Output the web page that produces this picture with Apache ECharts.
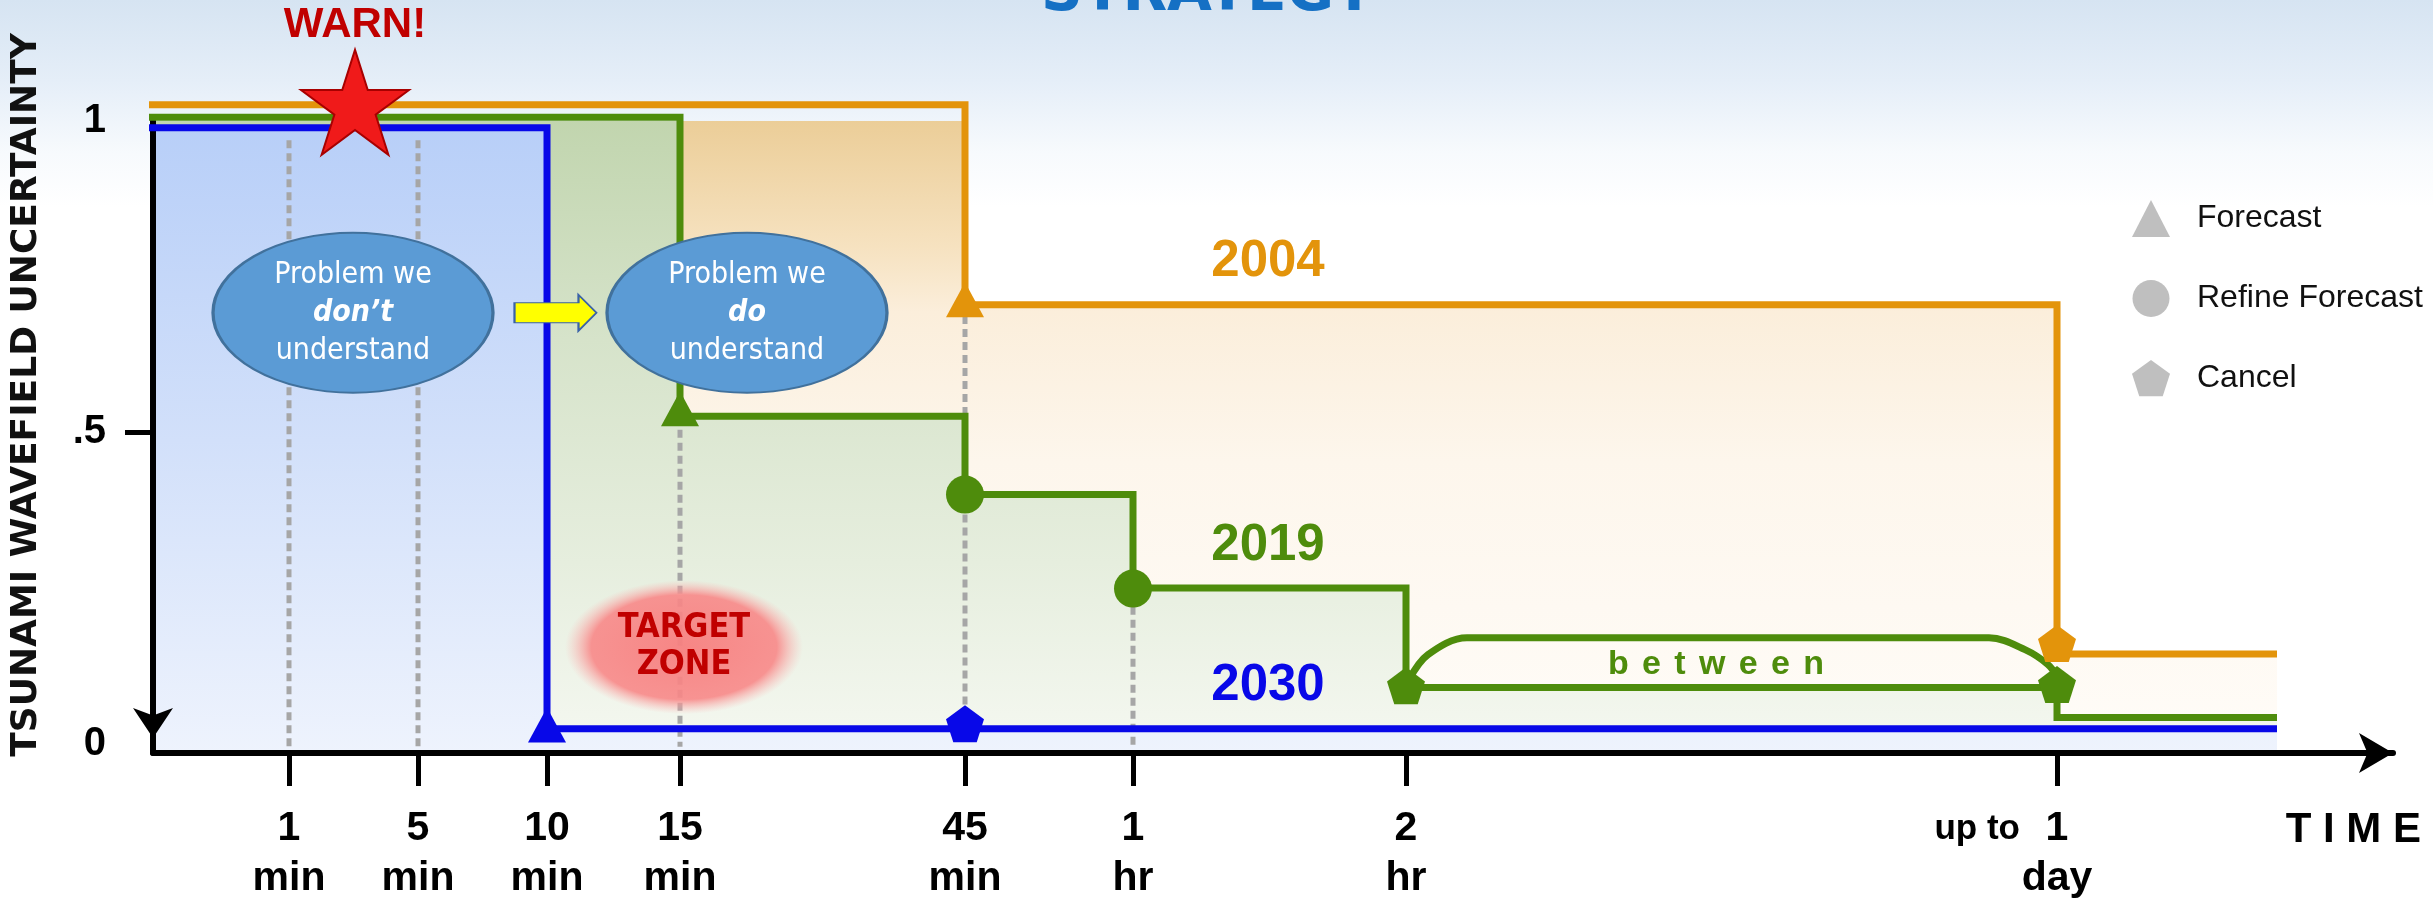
<!DOCTYPE html>
<html>
<head>
<meta charset="utf-8">
<title>Tsunami forecast strategy</title>
<script src="https://cdn.jsdelivr.net/npm/echarts@6/dist/echarts.min.js"></script>
<style>
    html, body { margin: 0; padding: 0; background: #fff; }
    #chart { width: 2433px; height: 901px; }
</style>
</head>
<body>
<div id="chart"></div>
<script>
// time axis is schematic, so ticks sit at hand-read positions (axis units)
const tickPos = [13.6, 26.5, 39.4, 52.7, 81.2, 98.0, 125.3, 190.4];
const tickNum = ['1', '5', '10', '15', '45', '1', '2', '1'];
const tickUnit = ['min', 'min', 'min', 'min', 'min', 'hr', 'hr', 'day'];
const yTickVals = [0, 0.5, 1];
const yTickText = ['0', '.5', '1'];

// stepped uncertainty levels: x where a level starts, y the level
const x2004 = [-2.9, 81.2, 190.4, 212.4];
const y2004 = [1.026, 0.705, 0.144, 0.144];
const x2019 = [-2.9, 52.7, 81.2, 98.0, 125.3, 190.4, 212.4];
const y2019 = [1.006, 0.526, 0.40, 0.25, 0.09, 0.042, 0.042];
const x2030 = [-2.9, 39.4, 212.4];
const y2030 = [0.989, 0.024, 0.024];

// markers [x, y, year]
const forecastPts = [[81.2, 0.713, '2004'], [52.7, 0.538, '2019'], [39.4, 0.030, '2030']];
const refinePts = [[81.2, 0.400, '2019'], [98.0, 0.249, '2019']];
const cancelPts = [[190.4, 0.161, '2004'], [125.3, 0.093, '2019'], [190.4, 0.095, '2019'], [81.2, 0.032, '2030']];

// grey dotted guides
const guideX = [13.6, 26.5, 52.7, 81.2, 81.2, 98.0];
const guideTop = [0.969, 0.969, 0.504, 0.687, 0.368, 0.220];
const guideBottom = [-0.005, -0.005, -0.005, 0.526, 0.063, -0.005];

// "between" bracket
const betweenX = [125.6, 127.5, 131.4, 183.6, 187.2, 189.5, 190.5];
const betweenY = [0.103, 0.143, 0.170, 0.170, 0.151, 0.127, 0.106];

// annotations
const yearNames = ['2004', '2019', '2030'];
const yearLabelX = [111.5, 111.5, 111.5];
const yearLabelY = [0.774, 0.318, 0.092];
const bubbleX = [20.0, 59.4];
const bubbleY = [0.692, 0.692];
const bubbleWord = ['don\u2019t', 'do'];
const arrowPt = [40.25, 0.692];
const targetPt = [53.1, 0.155];
const warnPt = [20.2, 1.030];
const betweenLabelPt = [156.3, 0.127];
const betweenWord = 'between';

const COLORS = { '2004': '#e3940b', '2019': '#4e8c0c', '2030': '#0808e8' };
const FONT = '"Liberation Sans", Arial, sans-serif';
const NARROW = '"Liberation Sans Narrow", "DejaVu Sans Condensed", "Liberation Sans", sans-serif';
const PENTAGON = 'path://M0,-1 L0.951,-0.309 L0.588,0.809 L-0.588,0.809 L-0.951,-0.309 Z';
const STAR = 'path://M0,-1 L0.2245,-0.309 L0.951,-0.309 L0.363,0.118 L0.588,0.809 L0,0.382 L-0.588,0.809 L-0.363,0.118 L-0.951,-0.309 L-0.2245,-0.309 Z';
const ARROW = 'path://M0,8 L64,8 L64,0 L82,18 L64,36 L64,28 L0,28 Z';

const chart = echarts.init(document.getElementById('chart'));

const toPts = (xs, ys) => xs.map((x, i) => [x, ys[i]]);
// fills start at the y axis, not at the line start
const fillPts = (xs, ys) => xs.map((x, i) => [i === 0 ? 0 : x, ys[i]]);
const grad = (stops) => new echarts.graphic.LinearGradient(0, 0, 0, 1,
    stops.map(s => ({ offset: s[0], color: s[1] })));

const areaSeries = (xs, ys, stops, z) => ({
    type: 'line', data: fillPts(xs, ys), step: 'end', symbol: 'none', silent: true,
    lineStyle: { width: 0 }, areaStyle: { origin: 'start', opacity: 1, color: grad(stops) }, z
});
const stepSeries = (xs, ys, color) => ({
    type: 'line', data: toPts(xs, ys), step: 'end', symbol: 'none', clip: false, silent: true,
    lineStyle: { color, width: 7, cap: 'butt', join: 'miter' }, z: 6
});
const markerData = pts => pts.map(p => ({ value: [p[0], p[1]], itemStyle: { color: COLORS[p[2]] } }));

const guides = guideX.map((x, i) => ({
    type: 'line', data: [[x, guideTop[i]], [x, guideBottom[i]]], symbol: 'none', silent: true,
    lineStyle: { color: '#a6a6a6', width: 5, type: [8, 5] }, z: 4
}));

const textPoint = (value, text, color, size, font) => ({
    value, label: { formatter: text, color, fontSize: size, fontFamily: font, fontWeight: 'bold' }
});

const option = {
    animation: false,
    backgroundColor: grad([[0, '#d6e4f2'], [0.09, '#e5eef8'], [0.17, '#f7fafd'], [0.23, '#ffffff'], [1, '#ffffff']]),
    grid: { left: 153, right: 40, top: 121, bottom: 148, outerBoundsMode: 'none' },
    legend: {
        orient: 'vertical', left: 2127, top: 195, itemWidth: 38, itemHeight: 37, itemGap: 43,
        selectedMode: false,
        textStyle: { fontSize: 32, fontFamily: FONT, color: '#111', padding: [0, 0, 0, 22] },
        data: [
            { name: 'Forecast', icon: 'triangle' },
            { name: 'Refine Forecast', icon: 'circle' },
            { name: 'Cancel', icon: PENTAGON }
        ]
    },
    xAxis: {
        type: 'value', min: 0, max: 224, z: 5,
        axisLine: {
            onZero: false, symbol: ['none', 'arrow'], symbolSize: [30, 34], symbolOffset: [0, 0],
            lineStyle: { color: '#000', width: 6 }
        },
        axisTick: { show: true, customValues: tickPos, length: 33, lineStyle: { color: '#000', width: 5 } },
        axisLabel: {
            customValues: tickPos, margin: 51, fontSize: 41, lineHeight: 50, fontWeight: 'bold',
            fontFamily: FONT, color: '#000',
            formatter: v => {
                const i = tickPos.findIndex(p => Math.abs(p - v) < 0.01);
                return i < 0 ? '' : tickNum[i] + '\n' + tickUnit[i];
            }
        },
        splitLine: { show: false }
    },
    yAxis: {
        type: 'value', min: -0.015, max: 1, z: 5,
        axisLine: {
            show: true, onZero: false, symbol: ['arrow', 'none'], symbolSize: [30, 30], symbolOffset: [15, 0],
            lineStyle: { color: '#000', width: 6 }
        },
        axisTick: { show: true, customValues: [0.5], length: 28, lineStyle: { color: '#000', width: 5 } },
        axisLabel: {
            customValues: yTickVals, margin: 47, fontSize: 40, fontWeight: 'bold', fontFamily: FONT, color: '#000',
            formatter: v => {
                const i = yTickVals.findIndex(p => Math.abs(p - v) < 1e-6);
                return i < 0 ? '' : yTickText[i];
            }
        },
        splitLine: { show: false }
    },
    graphic: [
        {
            type: 'text', x: 27, y: 395, rotation: Math.PI / 2, z: 20,
            style: {
                text: 'TSUNAMI WAVEFIELD UNCERTAINTY', fontSize: 36, fontWeight: 'bold',
                fontFamily: '"DejaVu Sans", sans-serif', fill: '#111', align: 'center', verticalAlign: 'middle'
            }
        },
        {
            type: 'text', x: 1208, y: -5, z: 20,
            style: {
                text: 'STRATEGY', fontSize: 58, fontWeight: 'bold', fontFamily: '"DejaVu Sans", sans-serif',
                fill: '#1570c4', align: 'center', verticalAlign: 'middle'
            }
        },
        {
            type: 'text', x: 2020, y: 829, z: 20,
            style: { text: 'up to', fontSize: 35, fontWeight: 'bold', fontFamily: FONT, fill: '#000', align: 'right', verticalAlign: 'middle' }
        },
        {
            type: 'text', x: 2421, y: 830, z: 20,
            style: { text: 'T I M E', fontSize: 42, fontWeight: 'bold', fontFamily: FONT, fill: '#000', align: 'right', verticalAlign: 'middle' }
        }
    ],
    series: [
        areaSeries(x2004, y2004, [[0, '#eacb93'], [0.22, '#f6e2c0'], [0.32, '#fbeedb'], [0.55, '#fdf6ec'], [1, '#fffcf8']], 1),
        areaSeries(x2019, y2019, [[0, '#c1d5ae'], [0.35, '#d6e3ca'], [0.7, '#e6eede'], [1, '#f5f8f1']], 2),
        areaSeries(x2030, y2030, [[0, '#b8cff8'], [0.5, '#d2e0fa'], [1, '#eef3fd']], 3),
        ...guides,
        stepSeries(x2004, y2004, COLORS['2004']),
        stepSeries(x2019, y2019, COLORS['2019']),
        stepSeries(x2030, y2030, COLORS['2030']),
        {
            type: 'line', data: toPts(betweenX, betweenY), smooth: 0.35, symbol: 'none', silent: true,
            lineStyle: { color: COLORS['2019'], width: 7 }, z: 6
        },
        {
            type: 'scatter', data: [{ value: targetPt }], symbol: 'circle', symbolSize: [238, 134], silent: true,
            itemStyle: {
                opacity: 1,
                color: new echarts.graphic.RadialGradient(0.5, 0.5, 0.5, [
                    { offset: 0, color: 'rgba(247,128,128,0.95)' },
                    { offset: 0.78, color: 'rgba(248,136,136,0.9)' },
                    { offset: 1, color: 'rgba(252,180,180,0)' }
                ])
            },
            label: {
                show: true, position: 'inside', formatter: 'TARGET\nZONE', color: '#c00000',
                fontSize: 34, fontWeight: 'bold', fontFamily: NARROW, lineHeight: 37
            },
            z: 7
        },
        {
            name: 'Forecast', type: 'scatter', symbol: 'triangle', symbolSize: [38, 35], clip: false,
            itemStyle: { color: '#bfbfbf', opacity: 1 }, data: markerData(forecastPts), z: 8
        },
        {
            name: 'Refine Forecast', type: 'scatter', symbol: 'circle', symbolSize: 38, clip: false,
            itemStyle: { color: '#bfbfbf', opacity: 1 }, data: markerData(refinePts), z: 8
        },
        {
            name: 'Cancel', type: 'scatter', symbol: PENTAGON, symbolSize: [38, 37], clip: false,
            itemStyle: { color: '#bfbfbf', opacity: 1 }, data: markerData(cancelPts), z: 8
        },
        {
            type: 'scatter', symbol: 'circle', symbolSize: [280, 160], silent: true,
            itemStyle: { color: '#5b9bd5', borderColor: '#41719c', borderWidth: 2.5, opacity: 1 },
            data: bubbleX.map((x, i) => ({
                value: [x, bubbleY[i]],
                label: { formatter: '{n|Problem we}\n{b|' + bubbleWord[i] + '}\n{n|understand}' }
            })),
            label: {
                show: true, position: 'inside',
                rich: {
                    n: { fontSize: 30, fontFamily: NARROW, color: '#fff', lineHeight: 38 },
                    b: { fontSize: 30, fontFamily: NARROW, color: '#fff', lineHeight: 38, fontWeight: 'bold', fontStyle: 'italic' }
                }
            },
            z: 9
        },
        {
            type: 'scatter', symbol: ARROW, symbolSize: [82, 36], silent: true, data: [arrowPt],
            itemStyle: { color: '#ffff00', borderColor: '#3a62a8', borderWidth: 1.5, opacity: 1 }, z: 9
        },
        {
            type: 'scatter', symbol: STAR, symbolSize: [108, 105], clip: false, silent: true, data: [warnPt],
            itemStyle: { color: '#f01a1a', borderColor: '#a80000', borderWidth: 2, opacity: 1 },
            label: {
                show: true, position: 'top', distance: 2, formatter: 'WARN!', color: '#c00000',
                fontSize: 42, fontWeight: 'bold', fontFamily: FONT
            },
            z: 10
        },
        {
            type: 'scatter', symbolSize: 1, clip: false, silent: true,
            itemStyle: { color: 'rgba(0,0,0,0)', opacity: 1 },
            label: { show: true, position: 'inside' },
            data: [
                ...yearNames.map((y, i) => textPoint([yearLabelX[i], yearLabelY[i]], y, COLORS[y], 51, FONT)),
                {
                    value: betweenLabelPt,
                    label: {
                        formatter: betweenWord.split('').map(c => '{l|' + c + '}').join(' '),
                        rich: { l: { color: COLORS['2019'], fontSize: 34, fontFamily: FONT, fontWeight: 'bold', padding: [0, 5] } }
                    }
                }
            ],
            z: 11
        }
    ]
};

chart.setOption(option);
</script>
</body>
</html>
